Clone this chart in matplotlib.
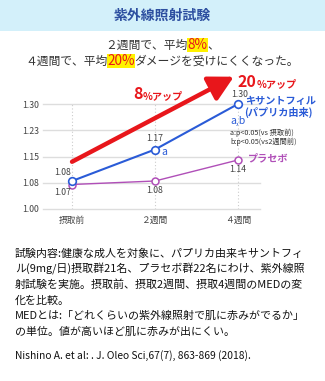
import matplotlib
matplotlib.use('Agg')
import matplotlib.pyplot as plt
from matplotlib.patches import Rectangle

plt.rcParams['font.family'] = ['Noto Sans CJK JP', 'DejaVu Sans']

# データ
periods = ['摂取前', '２週間', '４週間']
xanth = [1.08, 1.17, 1.30]
placebo = [1.07, 1.08, 1.14]
yticks = [1.00, 1.075, 1.15, 1.225, 1.30]
ytick_labels = ['1.00', '1.08', '1.15', '1.23', '1.30']

notes = [
    '試験内容:健康な成人を対象に、パプリカ由来キサントフィ',
    'ル(9mg/日)摂取群21名、プラセボ群22名にわけ、紫外線照',
    '射試験を実施。摂取前、摂取2週間、摂取4週間のMEDの変',
    '化を比較。',
    'MEDとは:「どれくらいの紫外線照射で肌に赤みがでるか」',
    'の単位。値が高いほど肌に赤みが出にくい。',
]
citation = 'Nishino A. et al: . J. Oleo Sci,67(7), 863-869 (2018).'

W, H = 325, 381
BLUE = '#2a5bd7'
PURPLE = '#b04fb8'
RED = '#e8161b'


def fx(x):
    return x / W


def fy(y):
    return 1 - y / H


fig = plt.figure(figsize=(W / 100, H / 100), dpi=100)
fig.patch.set_facecolor('white')

# ヘッダー
fig.patches.append(Rectangle((0, fy(31)), 1, 31 / H, transform=fig.transFigure,
                             facecolor='#d3f0fa', edgecolor='none'))
fig.text(0.5, fy(16), '紫外線照射試験', ha='center', va='center',
         fontsize=10, fontweight='bold', color='#2d4fa0')

renderer = fig.canvas.get_renderer()


def rich_line(y, parts, center=None, left=None):
    # parts: (text, kwargs)
    widths = []
    for txt, kw in parts:
        t = fig.text(0, 0, txt, **kw)
        widths.append(t.get_window_extent(renderer).width)
        t.remove()
    total = sum(widths)
    x = center - total / 2 if center is not None else left
    for (txt, kw), w in zip(parts, widths):
        fig.text(fx(x), fy(y), txt, ha='left', va='baseline', **kw)
        x += w


norm = dict(fontsize=8.5, color='#333333')
hl = dict(fontsize=9.8, color=RED,
          bbox=dict(facecolor='#fff200', edgecolor='none', pad=0.2))
rich_line(49, [('２週間で、平均', norm), ('8%', hl), ('、', norm)], center=162)
rich_line(65, [('４週間で、平均', norm), ('20%', hl),
               ('ダメージを受けにくくなった。', norm)], center=162)

# グラフ
ax = fig.add_axes([fx(43), fy(209), (260 - 43) / W, (209 - 62) / H])
ax.set_xlim(-0.35, 2.265)
ax.set_ylim(1.0, 1.42)
for s in ax.spines.values():
    s.set_visible(False)
ax.set_yticks(yticks)
ax.set_yticklabels(ytick_labels)
ax.set_xticks(range(len(periods)))
ax.set_xticklabels(periods)
ax.tick_params(length=0, labelsize=6.3, labelcolor='#444444')
ax.tick_params(axis='y', pad=3)
ax.tick_params(axis='x', pad=5)
for yv in yticks:
    ax.axhline(yv, color='#dddddd', lw=1, zorder=0, clip_on=False)
for i in range(len(periods)):
    ax.vlines(i, 1.0, 1.30, color='#cccccc', lw=0.8, linestyles=(0, (1, 2)), zorder=0)

x = list(range(len(periods)))
ax.plot(x, placebo, color=PURPLE, lw=1.0, marker='o', ms=5, mfc='white',
        mec=PURPLE, mew=1.1, zorder=3)
ax.plot(x, xanth, color=BLUE, lw=1.5, marker='o', ms=5.5, mfc='white',
        mec=BLUE, mew=1.2, zorder=4)

# 矢印
ax.annotate('', xy=(1.95, 1.378), xytext=(0.0, 1.135),
            arrowprops=dict(arrowstyle='-|>,head_length=1.5,head_width=0.8',
                            color=RED, lw=3.2, shrinkA=0, shrinkB=0), zorder=2,
            annotation_clip=False)

# 値ラベル
lab = dict(fontsize=6.3, color='#444444', ha='center', va='center')
ax.annotate(f'{xanth[0]:.2f}', (0, xanth[0]), xytext=(-7, 6), textcoords='offset points', **lab)
ax.annotate(f'{placebo[0]:.2f}', (0, placebo[0]), xytext=(-7, -5.5), textcoords='offset points', **lab)
ax.annotate(f'{xanth[1]:.2f}', (1, xanth[1]), xytext=(0, 8), textcoords='offset points', **lab)
ax.annotate(f'{placebo[1]:.2f}', (1, placebo[1]), xytext=(0, -7), textcoords='offset points', **lab)
ax.annotate(f'{xanth[2]:.2f}', (2, xanth[2]), xytext=(1.5, 6.5), textcoords='offset points', **lab)
ax.annotate(f'{placebo[2]:.2f}', (2, placebo[2]), xytext=(0, -7), textcoords='offset points', **lab)
ax.annotate('a', (1, xanth[1]), xytext=(7, -1.5), textcoords='offset points',
            fontsize=7.5, color=BLUE, ha='center', va='center')

# 注釈テキスト
fig.text(fx(245), fy(101), 'キサントフィル', fontsize=7.3, fontweight='bold',
         color=BLUE, ha='left', va='center')
fig.text(fx(244), fy(112), '(パプリカ由来)', fontsize=7.3, fontweight='bold',
         color=BLUE, ha='left', va='center')
fig.text(fx(230), fy(121), 'a,b', fontsize=7.5, color=BLUE, ha='left', va='center')
fig.text(fx(230), fy(133), 'a:p<0.05(vs 摂取前)', fontsize=5.2, color='#333333',
         ha='left', va='center')
fig.text(fx(230), fy(141.5), 'b:p<0.05(vs2週間前)', fontsize=5.2, color='#333333',
         ha='left', va='center')
fig.text(fx(248), fy(158), 'プラセボ', fontsize=7.3, fontweight='bold',
         color=PURPLE, ha='left', va='center')

big = dict(fontsize=11.5, color=RED, fontweight='bold')
small = dict(fontsize=7.3, color=RED, fontweight='bold')
rich_line(99, [('8', big), ('%アップ', small)], left=133)
rich_line(87, [('20', big), ('%アップ', small)], left=238)

# 説明文
for i, line in enumerate(notes):
    fig.text(fx(15), fy(253.5 + i * 15.6), line, fontsize=7.9, color='#111111',
             ha='left', va='center')
fig.text(fx(15), fy(355.5), citation, fontsize=7.4, color='#111111',
         ha='left', va='center')

fig.savefig('out.png', dpi=100)
